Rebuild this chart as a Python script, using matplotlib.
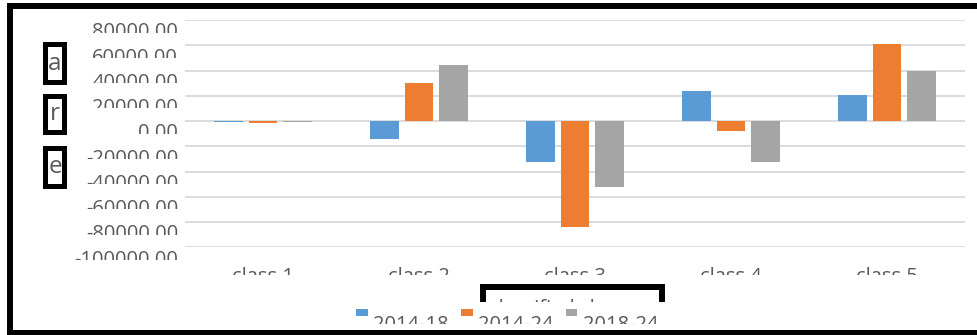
import numpy as np
import matplotlib
matplotlib.use("Agg")
import matplotlib.pyplot as plt
from matplotlib.patches import Rectangle
from matplotlib.lines import Line2D
from matplotlib.container import BarContainer
from matplotlib.legend_handler import HandlerPatch
from matplotlib.transforms import Bbox, ScaledTranslation
from matplotlib.ticker import FuncFormatter

categories = ["class 1", "class 2", "class 3", "class 4", "class 5"]
series_names = ["2014-18", "2014-24", "2018-24"]
vals_2014_18 = [-600, -14500, -32500, 23600, 20400]
vals_2014_24 = [-1200, 30200, -84100, -7900, 60900]
vals_2018_24 = [-700, 44200, -52400, -32300, 39400]
y_ticks = [80000, 60000, 40000, 20000, 0, -20000, -40000, -60000, -80000, -100000]
y_title_letters = ["a", "r", "e"]
x_title = "classified class"

colors = ["#5B9BD5", "#ED7D31", "#A5A5A5"]
text_gray = "#595959"

W, H = 978, 335
plt.rcParams["font.family"] = ["Open Sans", "DejaVu Sans"]

fig = plt.figure(figsize=(W / 100, H / 100), dpi=100)


def fx(px):
    return px / W


def fy(py):
    return 1 - py / H


def px_shift(dy):
    # shift in pixels (down is positive)
    return ScaledTranslation(0, -dy / 100, fig.dpi_scale_trans)


ax = fig.add_axes([fx(185), fy(247.3), fx(965) - fx(185), fy(20) - fy(247.3)])

x = np.arange(len(categories))
all_vals = [vals_2014_18, vals_2014_24, vals_2018_24]
for i, (vals, name) in enumerate(zip(all_vals, series_names)):
    ax.bar(x + (i - 1) * 0.221, vals, 0.18, color=colors[i], label=name, zorder=2)

ax.set_xlim(-0.5, len(categories) - 0.5)
ax.set_ylim(-100000, 80000)
ax.set_yticks(y_ticks)
ax.yaxis.set_major_formatter(FuncFormatter(lambda v, p: f"{v:.2f}"))
ax.set_xticks(x)
ax.set_xticklabels(categories)
ax.yaxis.grid(True, color="#d9d9d9", lw=1.3)
ax.set_axisbelow(True)
for s in ax.spines.values():
    s.set_visible(False)
ax.tick_params(axis="both", length=0, labelsize=14.5, labelcolor=text_gray)
ax.tick_params(axis="y", pad=5)
ax.tick_params(axis="x", pad=25)
for lab in ax.get_yticklabels() + ax.get_xticklabels():
    lab.set_verticalalignment("baseline")


def legend_box(legend, orig_handle, xdescent, ydescent, width, height, fontsize):
    # small flat square sitting above the text line
    return Rectangle((0, 9.6), 8.6, 5.0)


def copy_first(legend_handle, orig_handle):
    legend_handle.set_facecolor(orig_handle[0].get_facecolor())
    legend_handle.set_edgecolor("none")


leg = ax.legend(loc="lower left", bbox_to_anchor=(fx(356), fy(334.5)),
                bbox_transform=fig.transFigure, ncol=3, frameon=False,
                fontsize=14.5, handlelength=0.6, handleheight=0.7,
                handletextpad=0.25, columnspacing=0.6, borderpad=0,
                borderaxespad=0,
                handler_map={BarContainer: HandlerPatch(patch_func=legend_box,
                                                        update_func=copy_first)})
for t in leg.get_texts():
    t.set_color(text_gray)

# outer frame
for xs, ys in [([10, W], [6, 6]), ([10, 10], [6, H]), ([10, W], [333, 333])]:
    fig.add_artist(Line2D([fx(v) for v in xs], [fy(v) for v in ys],
                          transform=fig.transFigure, color="black", lw=4.3,
                          solid_capstyle="projecting", zorder=10))

# boxed letters on the left
for letter, (top, bot) in zip(y_title_letters, [(44.5, 82.5), (95.5, 132.5), (147.5, 185.5)]):
    fig.add_artist(Rectangle((fx(45.5), fy(bot)), fx(64.5) - fx(45.5), fy(top) - fy(bot),
                             transform=fig.transFigure, fc="white", ec="black", lw=3.6))
    fig.text(fx(55), fy((top + bot) / 2), letter, ha="center", va="center",
             fontsize=17.5, color=text_gray)

# x title box, cut off at the bottom
cut = Bbox.from_extents(0, H - 302, W, H)
box = Rectangle((fx(483), fy(315)), fx(662) - fx(483), fy(287) - fy(315),
                transform=fig.transFigure, fc="white", ec="black", lw=4.3)
fig.add_artist(box)
box.set_clip_box(cut)
box.set_clip_on(True)
xt = fig.text(fx(489), fy(314), x_title, ha="left", va="baseline",
              fontsize=14.5, color=text_gray)
xt.set_clip_box(cut)
xt.set_clip_on(True)

fig.canvas.draw()

for tick in ax.yaxis.get_major_ticks():
    lab = tick.label1
    lab.set_transform(lab.get_transform() + px_shift(17.3))
    yd = ax.transData.transform((0, tick.get_loc()))[1]
    lab.set_clip_box(Bbox.from_extents(0, yd - 12.7, 184, yd - 2))
    lab.set_clip_on(True)

xcut = Bbox.from_extents(0, H - 275, W, H - 250)
for tick in ax.xaxis.get_major_ticks():
    tick.label1.set_clip_box(xcut)
    tick.label1.set_clip_on(True)

lcut = Bbox.from_extents(0, H - 324.3, W, H - 300)
for t in leg.get_texts():
    t.set_clip_box(lcut)
    t.set_clip_on(True)

fig.savefig("out.png", dpi=100)
